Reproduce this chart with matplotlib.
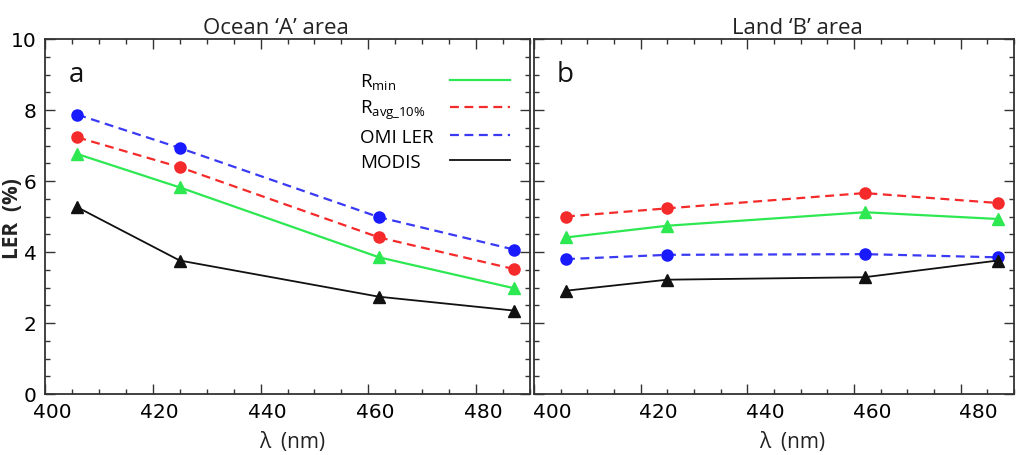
import matplotlib
matplotlib.use("Agg")
import matplotlib.pyplot as plt
from matplotlib.ticker import MultipleLocator
from matplotlib.transforms import ScaledTranslation

plt.rcParams['font.family'] = ['Open Sans', 'DejaVu Sans']
plt.rcParams['mathtext.default'] = 'regular'

# wavelengths (nm), same for both panels
wl = [406, 425, 462, 487]

# Ocean 'A' area
ocean_rmin = [6.76, 5.82, 3.85, 2.98]
ocean_ravg = [7.23, 6.39, 4.41, 3.52]
ocean_omi = [7.87, 6.93, 4.98, 4.07]
ocean_modis = [5.26, 3.76, 2.74, 2.35]

# Land 'B' area
land_rmin = [4.41, 4.74, 5.12, 4.93]
land_ravg = [5.00, 5.23, 5.66, 5.38]
land_omi = [3.80, 3.92, 3.94, 3.85]
land_modis = [2.91, 3.22, 3.29, 3.76]

titles = ["Ocean \u2018A\u2019 area", "Land \u2018B\u2019 area"]
letters = ["a", "b"]
labels = [r"R$_{min}$", r"R$_{avg\_10\%}$", "OMI LER", "MODIS"]

GREEN = "#2ee852"
RED = "#f52a2a"
BLUE = "#3a3af5"
BLACK = "#111111"

fig = plt.figure(figsize=(10.23, 4.56), dpi=100)
ax1 = fig.add_axes([45 / 1023, 61 / 456, 485 / 1023, 355 / 456])
ax2 = fig.add_axes([534 / 1023, 61 / 456, 480 / 1023, 355 / 456])

data = [(ocean_rmin, ocean_ravg, ocean_omi, ocean_modis),
        (land_rmin, land_ravg, land_omi, land_modis)]
title_x = [0.476, 0.548]
xlabel_x = [0.509, 0.537]
tick_shift = [7, 18]

for i, (ax, (rmin, ravg, omi, modis)) in enumerate(zip([ax1, ax2], data)):
    ax.plot(wl, rmin, color=GREEN, lw=1.6, marker='^', ms=8.5, label=labels[0])
    ax.plot(wl, ravg, color=RED, lw=1.6, ls=(0, (4, 2.5)), marker='o', ms=8,
            label=labels[1])
    ax.plot(wl, omi, color=BLUE, lw=1.6, ls=(0, (4, 2.5)), marker='o', ms=8,
            mfc="#1a1aff", mec="#1a1aff", label=labels[2])
    ax.plot(wl, modis, color=BLACK, lw=1.3, marker='^', ms=8.5, label=labels[3])

    ax.set_xlim(400, 490)
    ax.set_ylim(0, 10)
    ax.xaxis.set_major_locator(MultipleLocator(20))
    ax.xaxis.set_minor_locator(MultipleLocator(5))
    ax.yaxis.set_major_locator(MultipleLocator(2))
    ax.yaxis.set_minor_locator(MultipleLocator(0.5))
    ax.tick_params(which='both', direction='in', top=True, right=True,
                   width=1.0, color='#333333')
    ax.tick_params(which='major', length=7, pad=6)
    ax.tick_params(which='minor', length=3.5)
    for sp in ax.spines.values():
        sp.set_linewidth(1.3)
        sp.set_color('#333333')

    for lab in ax.get_xticklabels() + ax.get_yticklabels():
        lab.set_family('DejaVu Sans')
        lab.set_fontsize(14.5)

    # the x tick labels sit a bit right of their ticks in the source
    shift = ScaledTranslation(tick_shift[i] / 100, 0, fig.dpi_scale_trans)
    for lab in ax.get_xticklabels():
        lab.set_transform(lab.get_transform() + shift)

    ax.set_title(titles[i], fontsize=16, pad=4, color='#222222', x=title_x[i])
    ax.set_xlabel("\u03bb  (nm)", fontsize=15, labelpad=7, color='#222222',
                  x=xlabel_x[i])
    ax.text(0.065, 0.9, letters[i], transform=ax.transAxes, fontsize=20,
            ha='center', va='center', color='#111111')

ax2.tick_params(labelleft=False)
fig.text(13 / 1023, 0.52, "LER  (%)", rotation=90, fontsize=15,
         fontweight='bold', ha='center', va='center', color='#222222')

leg = ax1.legend(loc='upper right', bbox_to_anchor=(0.975, 0.93),
                 frameon=False, markerfirst=False, handlelength=3.2,
                 handletextpad=0.9, labelspacing=0.36, fontsize=13.5,
                 borderaxespad=0)
for h in leg.legend_handles:
    h.set_marker('')

# left-align legend texts while keeping the line samples in one column
fig.canvas.draw()
renderer = fig.canvas.get_renderer()
widths = [t.get_window_extent(renderer).width for t in leg.texts]
wmax = max(widths)
column = leg._legend_handle_box.get_children()[0]
for item, w in zip(column.get_children(), widths):
    item.sep = item.sep + (wmax - w) * 72 / fig.dpi

fig.savefig("out.png", dpi=100)
